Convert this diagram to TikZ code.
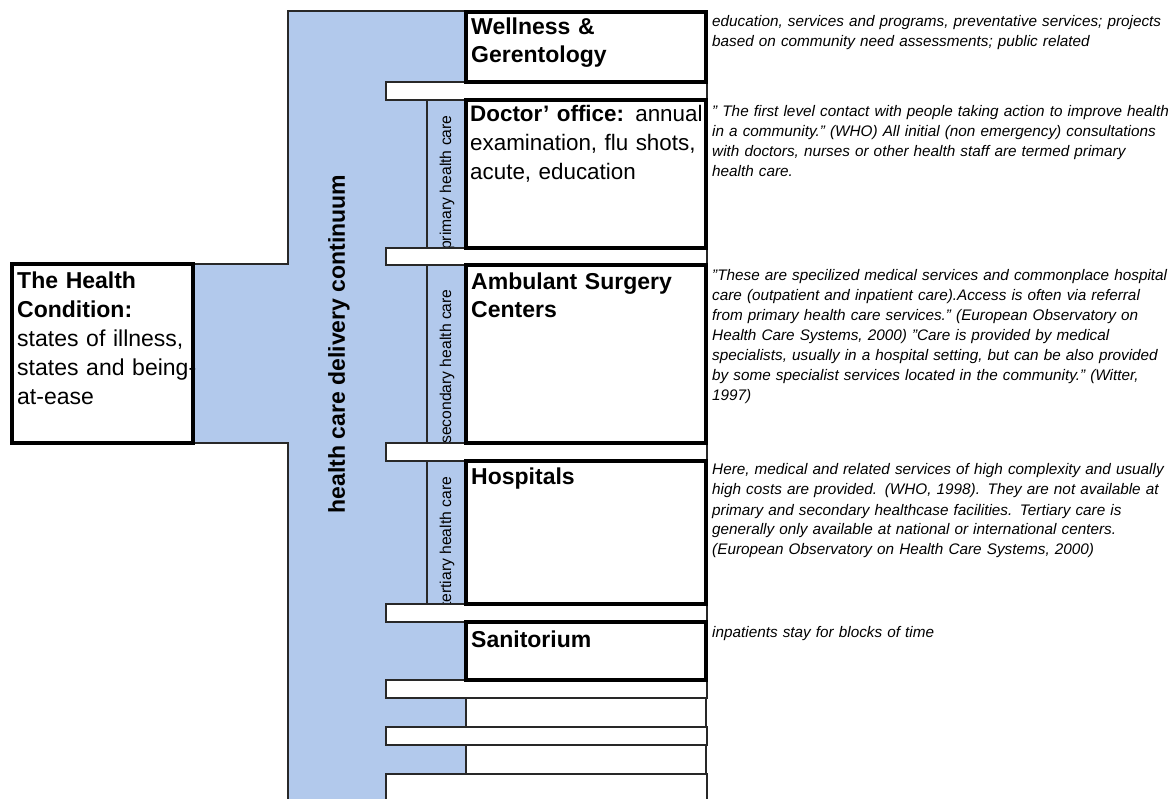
\documentclass[tikz,border=0pt]{standalone}
\usepackage{fontspec}
\setmainfont{Liberation Sans}
\definecolor{colblue}{RGB}{178,201,236}
\definecolor{edgegray}{RGB}{40,40,40}
\tikzset{
  thickbox/.style={draw=black, line width=3.5pt, fill=white},
  thinbox/.style={draw=edgegray, line width=2pt, fill=white},
  barbox/.style={draw=edgegray, line width=1.6pt, fill=white},
  stripline/.style={draw=edgegray, line width=1.6pt},
  boxtext/.style={anchor=base west, inner sep=0pt, text width=250pt, align=left},
  sidetext/.style={anchor=base west, inner sep=0pt, text width=470pt, align=left,
    font=\fontsize{15.3}{20}\selectfont\itshape},
  sublabel/.style={rotate=90, anchor=west, inner sep=0pt, font=\fontsize{15.7}{18}\selectfont},
}
\begin{document}
\begin{tikzpicture}[x=1pt, y=-1pt]
\useasboundingbox (0,0) rectangle (1173,799);
\clip (0,0) rectangle (1173,799);
\fill[white] (0,0) rectangle (1173,799);

% blue continuum column with connector to the health condition box
\draw[draw=edgegray, line width=1.6pt, fill=colblue]
  (288,11) -- (466,11) -- (466,830) -- (288,830) -- (288,443) -- (193,443)
  -- (193,264) -- (288,264) -- cycle;

\node[rotate=90, inner sep=0pt, font=\fontsize{23}{28}\selectfont\bfseries] (continuum)
  at (339,344) {health care delivery continuum};

% sub-strips
\draw[stripline] (427,100) -- (427,248);
\draw[stripline] (427,265) -- (427,443);
\draw[stripline] (427,461) -- (427,604);
\begin{scope}
  \clip (427,100) rectangle (466,248);
  \node[sublabel] (primary) at (447,250) {primary health care};
\end{scope}
\begin{scope}
  \clip (427,265) rectangle (466,443);
  \node[sublabel] (secondary) at (447,444) {secondary health care};
\end{scope}
\begin{scope}
  \clip (427,461) rectangle (466,604);
  \node[sublabel] (tertiary) at (447,607) {tertiary health care};
\end{scope}

% white bars
\draw[barbox] (386,82) rectangle (707,100);
\draw[barbox] (386,248) rectangle (707,265);
\draw[barbox] (386,443) rectangle (707,461);
\draw[barbox] (386,604) rectangle (707,622);
\draw[barbox] (386,680) rectangle (707,698);
\draw[barbox] (386,727) rectangle (707,745);
\draw[barbox] (386,774) rectangle (707,830);

% main boxes
\draw[thickbox] (12,264) rectangle (193,443);
\draw[thickbox] (466,12) rectangle (706,82);
\draw[thickbox] (466,100) rectangle (706,248);
\draw[thickbox] (466,265) rectangle (706,443);
\draw[thickbox] (466,461) rectangle (706,604);
\draw[thickbox] (466,622) rectangle (706,680);
\draw[thinbox] (466,698) rectangle (706,727);
\draw[thinbox] (466,745) rectangle (706,774);

% box texts
\node[boxtext, text width=200pt, font=\fontsize{23}{29}\selectfont] (condition) at (17,289)
  {\textbf{The Health}\\\textbf{Condition:}\\states of illness,\\states and being-\\at-ease};
\node[boxtext, font=\fontsize{23}{28}\selectfont] (wellness) at (471,35)
  {\textbf{Wellness \&}\\\textbf{Gerentology}};
\node[boxtext, font=\fontsize{22.4}{29}\selectfont] (doctor) at (470,122)
  {\textbf{Doctor' office:} annual\\examination, flu shots,\\acute, education};
\node[boxtext, font=\fontsize{23}{28}\selectfont] (ambulant) at (471,290)
  {\textbf{Ambulant Surgery}\\\textbf{Centers}};
\node[boxtext, font=\fontsize{23}{28}\selectfont] (hospitals) at (471,485)
  {\textbf{Hospitals}};
\node[boxtext, font=\fontsize{23}{28}\selectfont] (sanitorium) at (471,647)
  {\textbf{Sanitorium}};

% side descriptions
\node[sidetext] (wellnessnote) at (712,27)
  {education, services and programs, preventative services; projects\\
   based on community need assessments; public related};
\node[sidetext] (doctornote) at (712,117)
  {" The first level contact with people taking action to improve health\\
   in a community." (WHO) All initial (non emergency) consultations\\
   with doctors, nurses or other health staff are termed primary\\
   health care.};
\node[sidetext] (ambulantnote) at (712,281)
  {"These are specilized medical services and commonplace hospital\\
   care (outpatient and inpatient care).Access is often via referral\\
   from primary health care services." (European Observatory on\\
   Health Care Systems, 2000) "Care is provided by medical\\
   specialists, usually in a hospital setting, but can be also provided\\
   by some specialist services located in the community." (Witter,\\
   1997)};
\node[sidetext] (hospitalsnote) at (712,475)
  {Here, medical and related services of high complexity and usually\\
   high costs are provided. (WHO, 1998). They are not available at\\
   primary and secondary healthcase facilities. Tertiary care is\\
   generally only available at national or international centers.\\
   (European Observatory on Health Care Systems, 2000)};
\node[sidetext] (sanitoriumnote) at (712,637)
  {inpatients stay for blocks of time};
\end{tikzpicture}
\end{document}
